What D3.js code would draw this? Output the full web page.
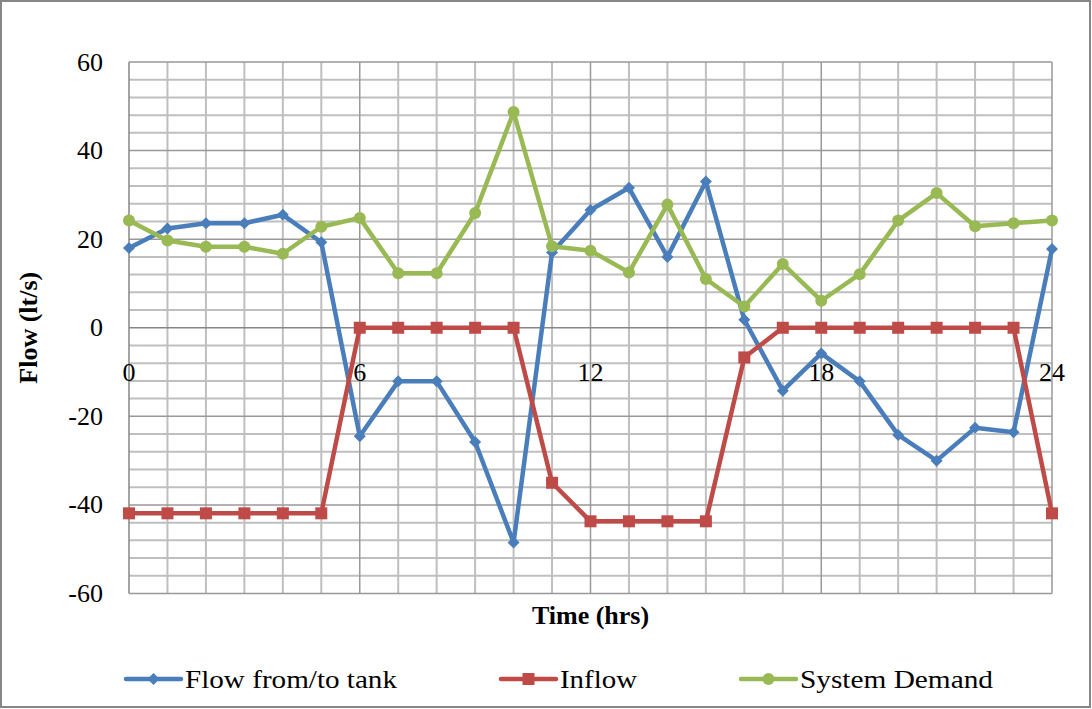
<!DOCTYPE html>
<html>
<head>
<meta charset="utf-8">
<script src="https://cdn.jsdelivr.net/npm/d3@7"></script>
<style>
  body { margin: 0; background: #fff; }
</style>
</head>
<body>
<div id="chart"></div>
<script>
'use strict'

// hours 0..24
const hours = d3.range(0, 25);

const tankFlow = [18, 22.4, 23.6, 23.6, 25.5, 19.3, -24.5, -12.1, -12.1, -25.8, -48.5, 17,
  26.6, 31.6, 16, 33, 1.8, -14.2, -5.8, -12.1, -24.2, -30, -22.6, -23.6, 17.8];

const inflow = [-41.9, -41.9, -41.9, -41.9, -41.9, -41.9, 0, 0, 0, 0, 0, -35,
  -43.7, -43.7, -43.7, -43.7, -6.7, 0, 0, 0, 0, 0, 0, 0, -41.9];

const demand = [24.2, 19.7, 18.3, 18.3, 16.7, 22.8, 24.8, 12.3, 12.3, 25.9, 48.7, 18.4,
  17.4, 12.5, 27.8, 11, 4.8, 14.4, 6.1, 12.1, 24.2, 30.4, 22.9, 23.6, 24.2];

const xTicks = [0, 6, 12, 18, 24];
const yTicks = [-60, -40, -20, 0, 20, 40, 60];

const seriesNames = ['Flow from/to tank', 'Inflow', 'System Demand'];
const seriesColors = ['#4A7EBB', '#BE4B48', '#98B954'];

const width = 1092;
const height = 709;
const margin = { top: 62, right: 40, bottom: 115, left: 129 };
const fontFamily = '"Liberation Serif", "Times New Roman", "DejaVu Serif", serif';

const svg = d3.select('#chart').append('svg')
  .attr('width', width)
  .attr('height', height)
  .style('font-family', fontFamily);

// outer frame
svg.append('rect')
  .attr('x', 1).attr('y', 1)
  .attr('width', width - 3).attr('height', height - 3)
  .attr('fill', '#fff')
  .attr('stroke', '#868686')
  .attr('stroke-width', 2);

const x = d3.scaleLinear().domain([0, 24]).range([margin.left, 1052]);
const y = d3.scaleLinear().domain([-60, 60]).range([593.5, margin.top]);

const grid = svg.append('g');

// minor horizontal lines, every 4
grid.selectAll('.hminor')
  .data(d3.range(-60, 61, 4).filter(v => v % 20 !== 0))
  .join('line')
  .attr('x1', x(0)).attr('x2', x(24))
  .attr('y1', d => y(d)).attr('y2', d => y(d))
  .attr('stroke', '#BFBFBF').attr('stroke-width', 2);

// minor vertical lines, every hour
grid.selectAll('.vminor')
  .data(hours.filter(h => h % 6 !== 0))
  .join('line')
  .attr('y1', y(60)).attr('y2', y(-60))
  .attr('x1', d => x(d)).attr('x2', d => x(d))
  .attr('stroke', '#BFBFBF').attr('stroke-width', 2);

// major horizontal
grid.selectAll('.hmajor')
  .data(yTicks.filter(v => v !== 0))
  .join('line')
  .attr('x1', x(0)).attr('x2', x(24))
  .attr('y1', d => y(d)).attr('y2', d => y(d))
  .attr('stroke', '#999').attr('stroke-width', 1.5);

// major vertical
grid.selectAll('.vmajor')
  .data(xTicks.filter(h => h !== 0))
  .join('line')
  .attr('y1', y(60)).attr('y2', y(-60))
  .attr('x1', d => x(d)).attr('x2', d => x(d))
  .attr('stroke', '#999').attr('stroke-width', 1.5);

// axes lines
grid.append('line')
  .attr('x1', x(0)).attr('x2', x(0))
  .attr('y1', y(60)).attr('y2', y(-60))
  .attr('stroke', '#868686').attr('stroke-width', 1.5);
grid.append('line')
  .attr('x1', x(0)).attr('x2', x(24))
  .attr('y1', y(0)).attr('y2', y(0))
  .attr('stroke', '#868686').attr('stroke-width', 1.5);

// tick labels
svg.selectAll('.ylab')
  .data(yTicks)
  .join('text')
  .attr('x', 103)
  .attr('y', d => y(d))
  .attr('dy', '0.33em')
  .attr('text-anchor', 'end')
  .attr('font-size', 26)
  .text(d => d);

svg.selectAll('.xlab')
  .data(xTicks)
  .join('text')
  .attr('x', d => x(d))
  .attr('y', 381)
  .attr('text-anchor', 'middle')
  .attr('font-size', 26)
  .text(d => d);

// axis titles
svg.append('text')
  .attr('x', x(12))
  .attr('y', 624)
  .attr('text-anchor', 'middle')
  .attr('font-size', 26)
  .attr('font-weight', 'bold')
  .text('Time (hrs)');

svg.append('text')
  .attr('transform', `translate(37, ${y(0)}) rotate(-90)`)
  .attr('text-anchor', 'middle')
  .attr('font-size', 26)
  .attr('font-weight', 'bold')
  .text('Flow (lt/s)');

// series
const allSeries = [tankFlow, inflow, demand];
const line = d3.line().x((d, i) => x(hours[i])).y(d => y(d));

function drawMarker(g, kind, color, cx, cy, s) {
  if (kind === 0) {
    g.append('path')
      .attr('d', `M${cx},${cy - s}L${cx + s},${cy}L${cx},${cy + s}L${cx - s},${cy}Z`)
      .attr('fill', color);
  } else if (kind === 1) {
    g.append('rect')
      .attr('x', cx - s).attr('y', cy - s)
      .attr('width', 2 * s).attr('height', 2 * s)
      .attr('fill', color);
  } else {
    g.append('circle')
      .attr('cx', cx).attr('cy', cy).attr('r', s)
      .attr('fill', color);
  }
}

allSeries.forEach((vals, k) => {
  const g = svg.append('g');
  g.append('path')
    .datum(vals)
    .attr('d', line)
    .attr('fill', 'none')
    .attr('stroke', seriesColors[k])
    .attr('stroke-width', 4.5)
    .attr('stroke-linejoin', 'round');
  vals.forEach((v, i) => drawMarker(g, k, seriesColors[k], x(hours[i]), y(v), 6));
});

// legend
const legendX = [126, 501, 741];
const legendTextW = [212, 77, 193];
seriesNames.forEach((name, k) => {
  const g = svg.append('g');
  const lx = legendX[k];
  const lw = 55;
  const ly = 679;
  g.append('line')
    .attr('x1', lx).attr('x2', lx + lw)
    .attr('y1', ly).attr('y2', ly)
    .attr('stroke', seriesColors[k])
    .attr('stroke-width', 4.5)
    .attr('stroke-linecap', 'round');
  drawMarker(g, k, seriesColors[k], lx + lw / 2, ly, 6);
  g.append('text')
    .attr('x', lx + lw + 4)
    .attr('y', ly)
    .attr('dy', '0.33em')
    .attr('font-size', 26)
    .attr('textLength', legendTextW[k])
    .attr('lengthAdjust', 'spacingAndGlyphs')
    .text(name);
});
</script>
</body>
</html>
